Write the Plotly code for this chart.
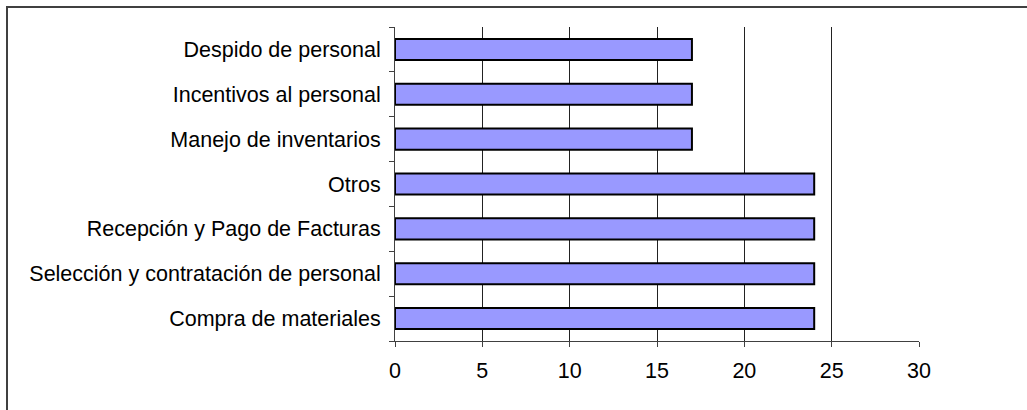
import plotly.graph_objects as go

categories = [
    "Compra de materiales",
    "Selección y contratación de personal",
    "Recepción y Pago de Facturas",
    "Otros",
    "Manejo de inventarios",
    "Incentivos al personal",
    "Despido de personal",
]
values = [24, 24, 24, 24, 17, 17, 17]
x_ticks = [0, 5, 10, 15, 20, 25, 30]

W, H = 1027, 410
L, R, T, B = 395, 108, 27, 69
pw, ph = W - L - R, H - T - B

fig = go.Figure(
    go.Bar(
        x=values,
        y=categories,
        orientation="h",
        marker=dict(color="#9999FF", line=dict(color="#000000", width=2)),
        hoverinfo="x+y",
    )
)

font = dict(family="Liberation Sans, Arial, sans-serif", size=21.5, color="#000000")

fig.update_layout(
    width=W,
    height=H,
    margin=dict(l=L, r=R, t=T, b=B, pad=0),
    paper_bgcolor="white",
    plot_bgcolor="white",
    bargap=0.53,
    showlegend=False,
    font=font,
    xaxis=dict(
        range=[0, 30],
        tickvals=x_ticks,
        ticktext=[str(v) for v in x_ticks],
        showgrid=True,
        gridcolor="#222222",
        gridwidth=1,
        zeroline=False,
        showline=True,
        linecolor="#404040",
        linewidth=1,
        ticks="outside",
        ticklen=5,
        tickcolor="#404040",
        ticklabelstandoff=5,
        tickfont=font,
    ),
    yaxis=dict(
        type="category",
        categoryorder="array",
        categoryarray=categories,
        range=[-0.5, 6.5],
        showgrid=False,
        zeroline=False,
        showline=True,
        linecolor="#404040",
        linewidth=1,
        ticks="outside",
        tickson="boundaries",
        ticklen=5,
        tickcolor="#404040",
        ticklabelstandoff=9,
        tickfont=font,
    ),
    shapes=[
        dict(
            type="rect",
            xref="paper",
            yref="paper",
            x0=(7 - L) / pw,
            x1=(W + 20 - L) / pw,
            y0=-(B + 20) / ph,
            y1=(H - B - 7) / ph,
            line=dict(color="#404040", width=2),
            fillcolor="rgba(0,0,0,0)",
            layer="below",
        )
    ],
)

fig.write_html("out.html")
